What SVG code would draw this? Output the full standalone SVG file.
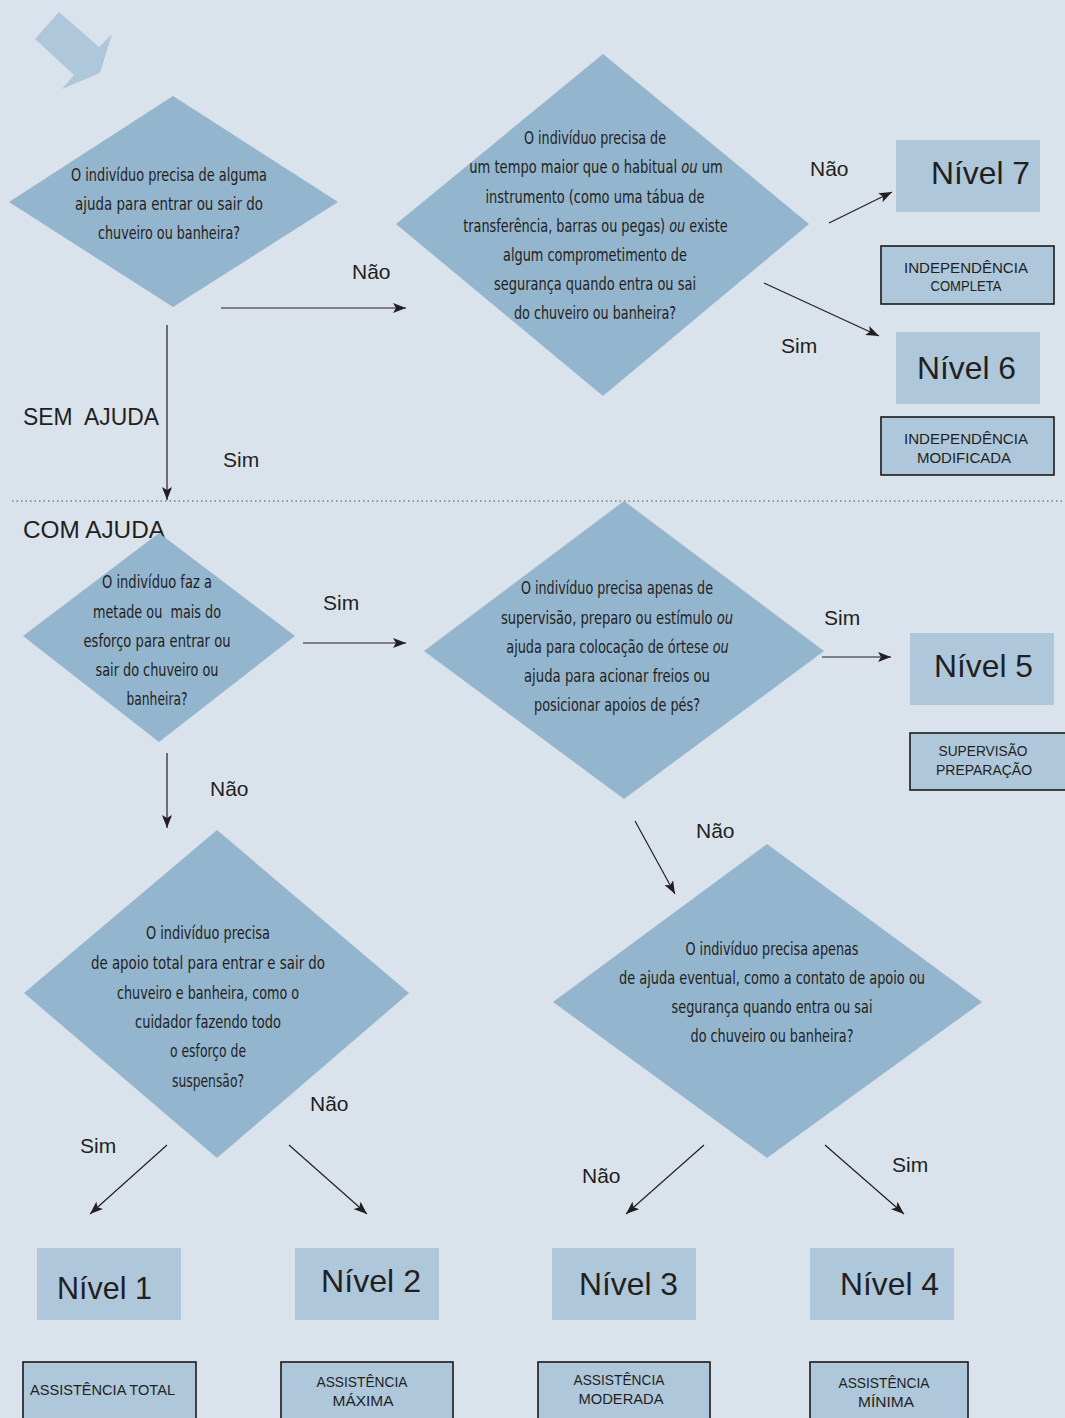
<svg xmlns="http://www.w3.org/2000/svg" width="1065" height="1418" viewBox="0 0 1065 1418">
<style>
.bg{fill:#dae3ec}
.dia{fill:#94b5ce}
.lvl{fill:#afc7db}
.lab{fill:#afc7db;stroke:#1c1a1b;stroke-width:1.6}
.q{font-family:'Liberation Sans Narrow','DejaVu Sans Condensed','DejaVu Sans',sans-serif;font-stretch:condensed;font-size:18px;fill:#231f20;text-anchor:middle}
.i{font-style:italic}
.n{font-family:'Liberation Sans',Arial,sans-serif;font-size:32px;fill:#231f20}
.c{font-family:'Liberation Sans',Arial,sans-serif;font-size:14px;fill:#231f20;text-anchor:middle}
.e{font-family:'Liberation Sans',Arial,sans-serif;font-size:21px;fill:#231f20}
.h{font-family:'Liberation Sans',Arial,sans-serif;font-size:23px;fill:#231f20;white-space:pre}
.ln{stroke:#231f20;stroke-width:1.2;fill:none;marker-end:url(#ah)}
</style>
<defs>
<marker id="ah" markerUnits="userSpaceOnUse" markerWidth="14" markerHeight="10" refX="13" refY="5" orient="auto">
<path d="M0,0 L13,5 L0,10 L3,5 z" fill="#231f20"/>
</marker>
</defs>
<rect class="bg" x="0" y="0" width="1065" height="1418"/>
<polygon points="35,39 59,12 99,47 112,34 100,73 62,89 74,75" fill="#afc7db"/>
<line x1="12" y1="501" x2="1065" y2="501" stroke="#4a4a4a" stroke-width="1" stroke-dasharray="1.5 3"/>
<text class="h" x="23" y="425" textLength="136" lengthAdjust="spacingAndGlyphs">SEM  AJUDA</text>
<text class="h" x="23" y="538" textLength="142" lengthAdjust="spacingAndGlyphs">COM AJUDA</text>

<g id="connectors">
<line class="ln" x1="167" y1="325" x2="167" y2="500"/>
<line class="ln" x1="221" y1="308" x2="406" y2="308"/>
<line class="ln" x1="829" y1="223" x2="892" y2="192"/>
<line class="ln" x1="764" y1="283" x2="879" y2="336"/>
<line class="ln" x1="303" y1="643" x2="406" y2="643"/>
<line class="ln" x1="822" y1="657" x2="891" y2="657"/>
<line class="ln" x1="167" y1="753" x2="167" y2="828"/>
<line class="ln" x1="635" y1="821" x2="675" y2="894"/>
<line class="ln" x1="167" y1="1145" x2="90" y2="1214"/>
<line class="ln" x1="289" y1="1145" x2="367" y2="1214"/>
<line class="ln" x1="704" y1="1145" x2="626" y2="1214"/>
<line class="ln" x1="825" y1="1145" x2="904" y2="1214"/>
<text class="e" x="352" y="279">Não</text>
<text class="e" x="223" y="467">Sim</text>
<text class="e" x="810" y="176">Não</text>
<text class="e" x="781" y="353">Sim</text>
<text class="e" x="323" y="610">Sim</text>
<text class="e" x="824" y="625">Sim</text>
<text class="e" x="210" y="796">Não</text>
<text class="e" x="696" y="838">Não</text>
<text class="e" x="310" y="1111">Não</text>
<text class="e" x="80" y="1153">Sim</text>
<text class="e" x="582" y="1183">Não</text>
<text class="e" x="892" y="1172">Sim</text>
</g>

<g id="q1">
<polygon class="dia" points="173,96 338,202 173,307 9,202"/>
<text class="q" x="169" y="181" textLength="196" lengthAdjust="spacingAndGlyphs">O indivíduo precisa de alguma</text>
<text class="q" x="169" y="210" textLength="188" lengthAdjust="spacingAndGlyphs">ajuda para entrar ou sair do</text>
<text class="q" x="169" y="239" textLength="142" lengthAdjust="spacingAndGlyphs">chuveiro ou banheira?</text>
</g>

<g id="q2">
<polygon class="dia" points="603,54 809,224 603,396 396,224"/>
<text class="q" x="595" y="144" textLength="142" lengthAdjust="spacingAndGlyphs">O indivíduo precisa de</text>
<text class="q" x="0" y="0" transform="translate(596,173) scale(0.808,1)">um tempo maior que o habitual <tspan class="i">ou</tspan> um</text>
<text class="q" x="595" y="203" textLength="219" lengthAdjust="spacingAndGlyphs">instrumento (como uma tábua de</text>
<text class="q" x="0" y="0" transform="translate(595.5,232) scale(0.793,1)">transferência, barras ou pegas) <tspan class="i">ou</tspan> existe</text>
<text class="q" x="595" y="261" textLength="184" lengthAdjust="spacingAndGlyphs">algum comprometimento de</text>
<text class="q" x="595" y="290" textLength="202" lengthAdjust="spacingAndGlyphs">segurança quando entra ou sai</text>
<text class="q" x="595" y="319" textLength="162" lengthAdjust="spacingAndGlyphs">do chuveiro ou banheira?</text>
</g>

<g id="q3">
<polygon class="dia" points="159,533 295,636 159,742 23,636"/>
<text class="q" x="157" y="588" textLength="110" lengthAdjust="spacingAndGlyphs">O indivíduo faz a</text>
<text class="q" x="157" y="618" textLength="128" lengthAdjust="spacingAndGlyphs" style="white-space:pre">metade ou  mais do</text>
<text class="q" x="157" y="647" textLength="147" lengthAdjust="spacingAndGlyphs">esforço para entrar ou</text>
<text class="q" x="157" y="676" textLength="123" lengthAdjust="spacingAndGlyphs">sair do chuveiro ou</text>
<text class="q" x="157" y="705" textLength="61" lengthAdjust="spacingAndGlyphs">banheira?</text>
</g>

<g id="q4">
<polygon class="dia" points="624,501 824,651 624,799 424,651"/>
<text class="q" x="617" y="594" textLength="192" lengthAdjust="spacingAndGlyphs">O indivíduo precisa apenas de</text>
<text class="q" x="0" y="0" transform="translate(617,624) scale(0.811,1)">supervisão, preparo ou estímulo <tspan class="i">ou</tspan></text>
<text class="q" x="0" y="0" transform="translate(617.5,653) scale(0.796,1)">ajuda para colocação de órtese <tspan class="i">ou</tspan></text>
<text class="q" x="617" y="682" textLength="186" lengthAdjust="spacingAndGlyphs">ajuda para acionar freios ou</text>
<text class="q" x="617" y="711" textLength="166" lengthAdjust="spacingAndGlyphs">posicionar apoios de pés?</text>
</g>

<g id="q5">
<polygon class="dia" points="217,830 409,993 217,1158 24,993"/>
<text class="q" x="208" y="939" textLength="124" lengthAdjust="spacingAndGlyphs">O indivíduo precisa</text>
<text class="q" x="208" y="969" textLength="234" lengthAdjust="spacingAndGlyphs">de apoio total para entrar e sair do</text>
<text class="q" x="208" y="999" textLength="182" lengthAdjust="spacingAndGlyphs">chuveiro e banheira, como o</text>
<text class="q" x="208" y="1028" textLength="146" lengthAdjust="spacingAndGlyphs">cuidador fazendo todo</text>
<text class="q" x="208" y="1057" textLength="76" lengthAdjust="spacingAndGlyphs">o esforço de</text>
<text class="q" x="208" y="1087" textLength="72" lengthAdjust="spacingAndGlyphs">suspensão?</text>
</g>

<g id="q6">
<polygon class="dia" points="767,844 982,1002 767,1158 553,1002"/>
<text class="q" x="772" y="955" textLength="173" lengthAdjust="spacingAndGlyphs">O indivíduo precisa apenas</text>
<text class="q" x="772" y="984" textLength="306" lengthAdjust="spacingAndGlyphs">de ajuda eventual, como a contato de apoio ou</text>
<text class="q" x="772" y="1013" textLength="201" lengthAdjust="spacingAndGlyphs">segurança quando entra ou sai</text>
<text class="q" x="772" y="1042" textLength="163" lengthAdjust="spacingAndGlyphs">do chuveiro ou banheira?</text>
</g>

<g id="nivel7">
<rect class="lvl" x="896" y="140" width="144" height="72"/>
<text class="n" x="931" y="184" textLength="99" lengthAdjust="spacingAndGlyphs">Nível 7</text>
</g>
<g id="indep-completa">
<rect class="lab" x="881" y="246" width="173" height="58"/>
<text class="c" x="966" y="273" textLength="124" lengthAdjust="spacingAndGlyphs">INDEPENDÊNCIA</text>
<text class="c" x="966" y="291" textLength="71" lengthAdjust="spacingAndGlyphs">COMPLETA</text>
</g>
<g id="nivel6">
<rect class="lvl" x="896" y="332" width="144" height="72"/>
<text class="n" x="917" y="379" textLength="99" lengthAdjust="spacingAndGlyphs">Nível 6</text>
</g>
<g id="indep-modificada">
<rect class="lab" x="881" y="417" width="173" height="58"/>
<text class="c" x="966" y="444" textLength="124" lengthAdjust="spacingAndGlyphs">INDEPENDÊNCIA</text>
<text class="c" x="964" y="463" textLength="94" lengthAdjust="spacingAndGlyphs">MODIFICADA</text>
</g>
<g id="nivel5">
<rect class="lvl" x="910" y="633" width="144" height="72"/>
<text class="n" x="934" y="677" textLength="99" lengthAdjust="spacingAndGlyphs">Nível 5</text>
</g>
<g id="supervisao">
<rect class="lab" x="910" y="733" width="170" height="57"/>
<text class="c" x="983" y="756" textLength="89" lengthAdjust="spacingAndGlyphs">SUPERVISÃO</text>
<text class="c" x="984" y="775" textLength="96" lengthAdjust="spacingAndGlyphs">PREPARAÇÃO</text>
</g>
<g id="nivel1">
<rect class="lvl" x="37" y="1248" width="144" height="72"/>
<text class="n" x="57" y="1299" textLength="95" lengthAdjust="spacingAndGlyphs">Nível 1</text>
</g>
<g id="nivel2">
<rect class="lvl" x="295" y="1248" width="144" height="72"/>
<text class="n" x="321" y="1292" textLength="100" lengthAdjust="spacingAndGlyphs">Nível 2</text>
</g>
<g id="nivel3">
<rect class="lvl" x="552" y="1248" width="144" height="72"/>
<text class="n" x="579" y="1295" textLength="99" lengthAdjust="spacingAndGlyphs">Nível 3</text>
</g>
<g id="nivel4">
<rect class="lvl" x="810" y="1248" width="144" height="72"/>
<text class="n" x="840" y="1295" textLength="99" lengthAdjust="spacingAndGlyphs">Nível 4</text>
</g>
<g id="assist-total">
<rect class="lab" x="23" y="1362" width="173" height="70"/>
<text class="c" x="30" y="1395" style="text-anchor:start" textLength="145" lengthAdjust="spacingAndGlyphs">ASSISTÊNCIA TOTAL</text>
</g>
<g id="assist-maxima">
<rect class="lab" x="281" y="1362" width="172" height="70"/>
<text class="c" x="362" y="1387" textLength="91" lengthAdjust="spacingAndGlyphs">ASSISTÊNCIA</text>
<text class="c" x="363" y="1406" textLength="61" lengthAdjust="spacingAndGlyphs">MÁXIMA</text>
</g>
<g id="assist-moderada">
<rect class="lab" x="538" y="1362" width="172" height="70"/>
<text class="c" x="619" y="1385" textLength="91" lengthAdjust="spacingAndGlyphs">ASSISTÊNCIA</text>
<text class="c" x="621" y="1404" textLength="85" lengthAdjust="spacingAndGlyphs">MODERADA</text>
</g>
<g id="assist-minima">
<rect class="lab" x="810" y="1362" width="158" height="70"/>
<text class="c" x="884" y="1388" textLength="91" lengthAdjust="spacingAndGlyphs">ASSISTÊNCIA</text>
<text class="c" x="886" y="1407" textLength="56" lengthAdjust="spacingAndGlyphs">MÍNIMA</text>
</g>
</svg>
